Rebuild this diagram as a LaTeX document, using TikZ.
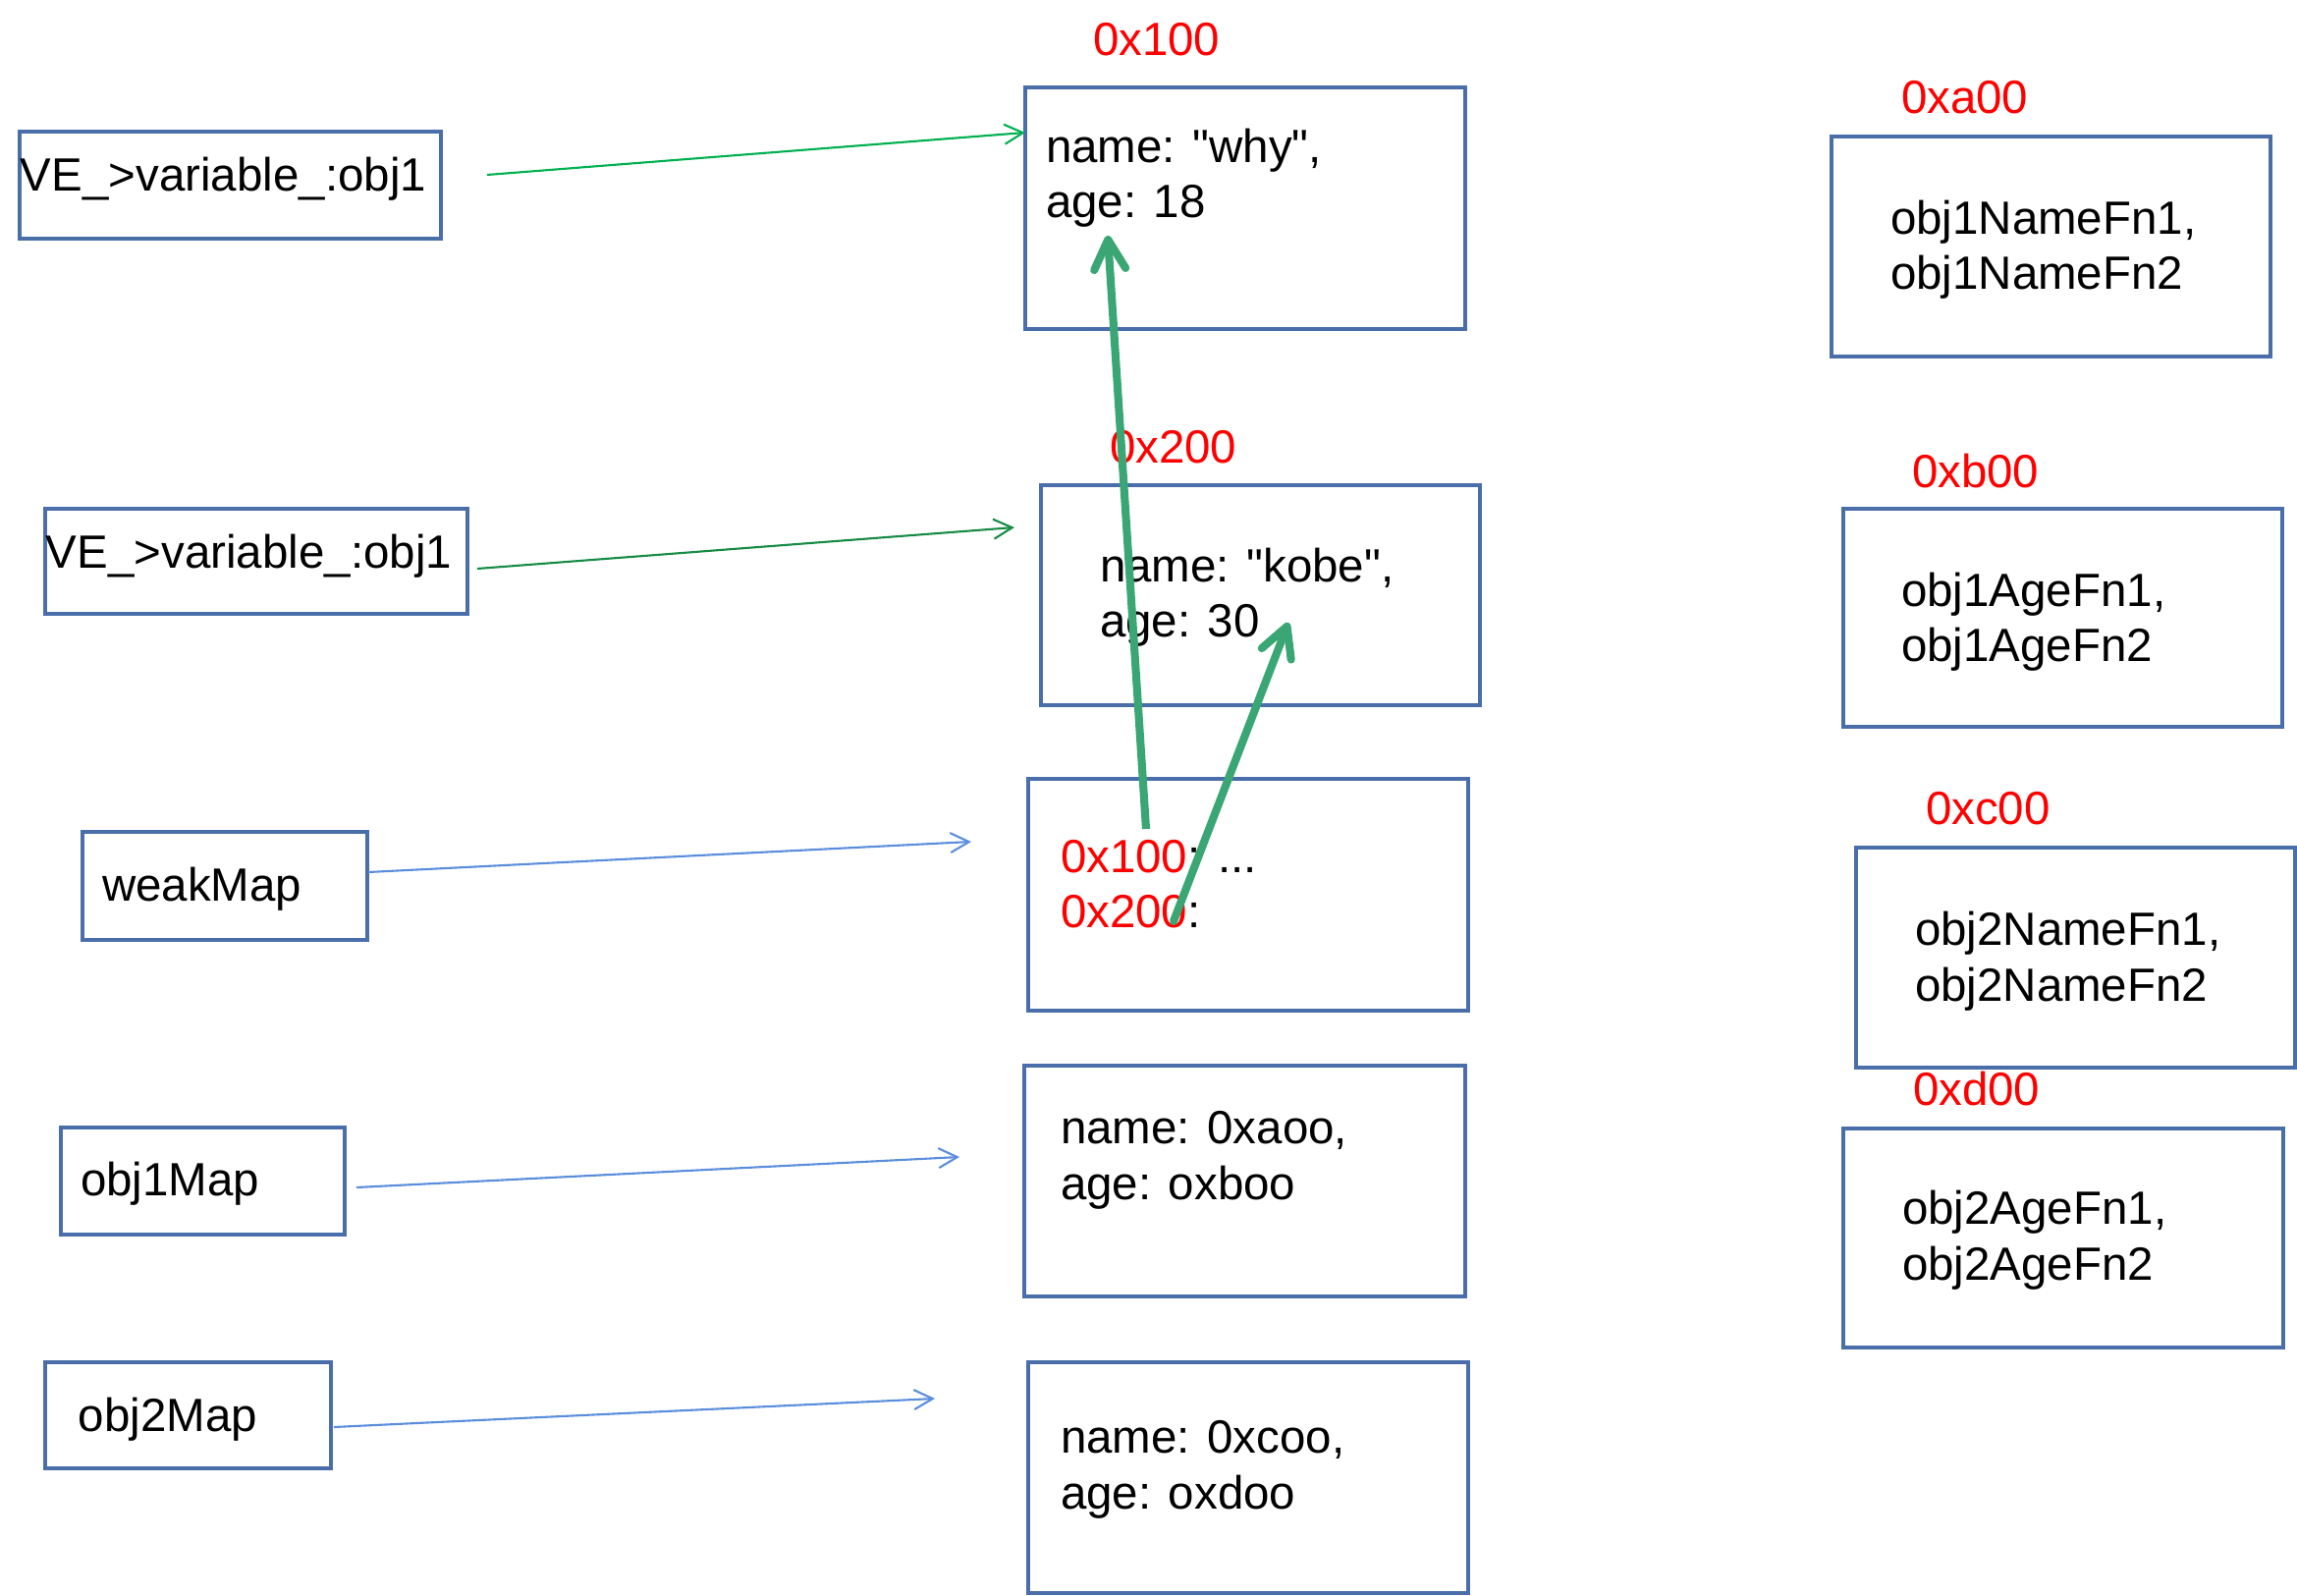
\documentclass[tikz,border=0pt]{standalone}
\usepackage{fontspec}
\setmainfont[Ligatures=TeXOff]{Liberation Sans}
\usetikzlibrary{arrows.meta,fit}
\definecolor{boxline}{HTML}{4A6EA9}
\definecolor{addrred}{HTML}{FF0000}
\definecolor{refgreen}{HTML}{00B050}
\definecolor{darkgreen}{HTML}{168B45}
\definecolor{mapblue}{HTML}{5A8EDC}
\definecolor{pathgreen}{HTML}{3AA673}
\begin{document}
\begin{tikzpicture}[x=0.01cm,y=-0.01cm,
  box/.style={draw=boxline, line width=0.95pt, inner sep=0pt, outer sep=0pt},
  % two-line texts are placed by the baseline of their last line
  txt/.style={anchor=base west, inner sep=0pt, outer sep=0pt, align=left,
    font=\fontsize{13.5}{16.2}\selectfont},
  addr/.style={txt, text=addrred},
  thinarrow/.style={line width=0.6pt, -{Straight Barb[length=0.19cm,width=0.2cm]}},
  thickarrow/.style={draw=pathgreen, line width=2.3pt,
    -{Straight Barb[length=0.3cm,width=0.32cm,round]}}
]
\useasboundingbox (0,0) rectangle (2339,1625);

% variables on the left
\node[box, fit={(20,134) (449,243)}] (ve1) {};
\node[txt] (ve1txt) at (21,195) {VE\_>variable\_:obj1};
\node[box, fit={(46,518) (476,625)}] (ve2) {};
\node[txt] (ve2txt) at (47,579) {VE\_>variable\_:obj1};
\node[box, fit={(84,847) (374,957)}] (wm) {};
\node[txt] (wmtxt) at (104,917) {weakMap};
\node[box, fit={(62,1148) (351,1257)}] (m1) {};
\node[txt] (m1txt) at (82,1217) {obj1Map};
\node[box, fit={(46,1387) (337,1495)}] (m2) {};
\node[txt] (m2txt) at (80,1457) {obj2Map};

% heap objects in the middle
\node[box, fit={(1044,89) (1492,335)}] (objA) {};
\node[addr] (objAaddr) at (1113,57) {0x100};
\node[txt] (objAtxt) at (1065,222) {name: "why",\\age: 18};
\node[box, fit={(1060,494) (1507,718)}] (objB) {};
\node[addr] (objBaddr) at (1130,472) {0x200};
\node[txt] (objBtxt) at (1120,649) {name: "kobe",\\age: 30};
\node[box, fit={(1047,793) (1495,1029)}] (objC) {};
\node[txt] (objCtxt) at (1080,945) {\textcolor{addrred}{0x100}: ...\\\textcolor{addrred}{0x200}:};
\node[box, fit={(1043,1085) (1492,1320)}] (objD) {};
\node[txt] (objDtxt) at (1080,1221) {name: 0xaoo,\\age: oxboo};
\node[box, fit={(1047,1387) (1495,1622)}] (objE) {};
\node[txt] (objEtxt) at (1080,1536) {name: 0xcoo,\\age: oxdoo};

% function lists on the right
\node[box, fit={(1865,139) (2312,363)}] (fnA) {};
\node[addr] (fnAaddr) at (1936,116) {0xa00};
\node[txt] (fnAtxt) at (1925,295) {obj1NameFn1,\\obj1NameFn2};
\node[box, fit={(1877,518) (2324,740)}] (fnB) {};
\node[addr] (fnBaddr) at (1947,497) {0xb00};
\node[txt] (fnBtxt) at (1936,674) {obj1AgeFn1,\\obj1AgeFn2};
\node[box, fit={(1890,863) (2337,1087)}] (fnC) {};
\node[addr] (fnCaddr) at (1961,840) {0xc00};
\node[txt] (fnCtxt) at (1950,1019) {obj2NameFn1,\\obj2NameFn2};
\node[box, fit={(1877,1149) (2325,1372)}] (fnD) {};
\node[addr] (fnDaddr) at (1948,1125) {0xd00};
\node[txt] (fnDtxt) at (1937,1303) {obj2AgeFn1,\\obj2AgeFn2};

% connector end points
\coordinate (ve1out) at (496,178);
\coordinate (objAin) at (1044,135);
\coordinate (ve2out) at (486,579);
\coordinate (objBin) at (1033,537);
\coordinate (wmout) at (375,888);
\coordinate (objCin) at (989,857);
\coordinate (m1out) at (363,1209);
\coordinate (objDin) at (977,1178);
\coordinate (m2out) at (340,1453);
\coordinate (objEin) at (952,1424);
\coordinate (keyA) at (1167,844);
\coordinate (tipA) at (1128,240);
\coordinate (keyB) at (1195,938);
\coordinate (tipB) at (1312,634);

% references
\draw[thinarrow, draw=refgreen] (ve1out) -- (objAin);
\draw[thinarrow, draw=darkgreen] (ve2out) -- (objBin);
\draw[thinarrow, draw=mapblue] (wmout) -- (objCin);
\draw[thinarrow, draw=mapblue] (m1out) -- (objDin);
\draw[thinarrow, draw=mapblue] (m2out) -- (objEin);

% weak keys
\draw[thickarrow] (keyA) -- (tipA);
\draw[thickarrow, line cap=round] (keyB) -- (tipB);
\end{tikzpicture}
\end{document}
